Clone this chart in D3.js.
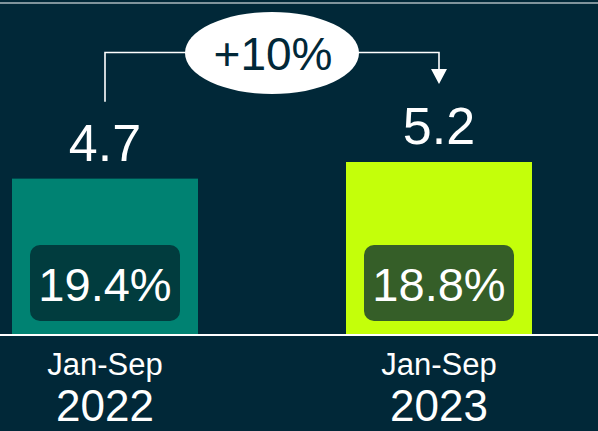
<!DOCTYPE html>
<html>
<head>
<meta charset="utf-8">
<script src="https://cdn.jsdelivr.net/npm/d3@7"></script>
<style>
  body { margin: 0; background: #012838; }
  svg { display: block; }
  text { font-family: "Liberation Sans", Arial, sans-serif; fill: #ffffff; }
</style>
</head>
<body>
<div id="chart"></div>
<script>
// data
var periods = ['Jan-Sep', 'Jan-Sep'];
var years = ['2022', '2023'];
var values = [4.7, 5.2];
var shares = ['19.4%', '18.8%'];
var changeLabel = '+10%';

var barColors = ['#008272', '#c4ff0a'];
var boxColors = ['#013c3e', '#355e28'];

var width = 598,
  height = 431,
  baseline = 335;

var svg = d3.select('#chart').append('svg')
  .attr('width', width)
  .attr('height', height)
  .style('background', '#012838');

var xScale = d3.scaleBand()
  .domain(years)
  .range([12, 532])
  .paddingInner(148 / 334)
  .paddingOuter(0);

var yScale = d3.scaleLinear()
  .domain([0, 5.2])
  .range([baseline, 162]);

var cx = function(i) { return xScale(years[i]) + xScale.bandwidth() / 2; };

// top rule
svg.append('line')
  .attr('x1', 0).attr('x2', width)
  .attr('y1', 3).attr('y2', 3)
  .attr('stroke', '#ffffff')
  .attr('stroke-width', 1.2);

// bars
svg.selectAll('rect.bar').data(values)
  .enter().append('rect')
  .attr('class', 'bar')
  .attr('x', function(d, i) { return xScale(years[i]); })
  .attr('y', function(d) { return yScale(d); })
  .attr('width', xScale.bandwidth())
  .attr('height', function(d) { return baseline - yScale(d); })
  .attr('fill', function(d, i) { return barColors[i]; });

// share boxes
svg.selectAll('rect.box').data(shares)
  .enter().append('rect')
  .attr('class', 'box')
  .attr('x', function(d, i) { return cx(i) - 75; })
  .attr('y', 245)
  .attr('width', 150)
  .attr('height', 76)
  .attr('rx', 10)
  .attr('fill', function(d, i) { return boxColors[i]; });

svg.selectAll('text.share').data(shares)
  .enter().append('text')
  .attr('class', 'share')
  .attr('x', function(d, i) { return cx(i); })
  .attr('y', 301)
  .attr('text-anchor', 'middle')
  .style('font-size', '47px')
  .text(function(d) { return d; });

// value labels
svg.selectAll('text.value').data(values)
  .enter().append('text')
  .attr('class', 'value')
  .attr('x', function(d, i) { return cx(i); })
  .attr('y', function(d) { return yScale(d) - 18; })
  .attr('text-anchor', 'middle')
  .style('font-size', '52px')
  .text(function(d) { return d3.format('.1f')(d); });

// baseline
svg.append('line')
  .attr('x1', 0).attr('x2', width)
  .attr('y1', baseline).attr('y2', baseline)
  .attr('stroke', '#ffffff')
  .attr('stroke-width', 2);

// category labels
svg.selectAll('text.period').data(periods)
  .enter().append('text')
  .attr('class', 'period')
  .attr('x', function(d, i) { return cx(i); })
  .attr('y', 375)
  .attr('text-anchor', 'middle')
  .style('font-size', '31px')
  .text(function(d) { return d; });

svg.selectAll('text.year').data(years)
  .enter().append('text')
  .attr('class', 'year')
  .attr('x', function(d, i) { return cx(i); })
  .attr('y', 421)
  .attr('text-anchor', 'middle')
  .style('font-size', '44px')
  .text(function(d) { return d; });

// change bracket
var topY = 52.5;
var startY = yScale(values[0]) - 77;
var tipY = yScale(values[1]) - 78;
svg.append('path')
  .attr('d', 'M' + cx(0) + ',' + startY + 'V' + topY + 'H' + cx(1) + 'V' + (tipY - 12))
  .attr('fill', 'none')
  .attr('stroke', '#ffffff')
  .attr('stroke-width', 1.6);

svg.append('path')
  .attr('d', 'M' + (cx(1) - 8) + ',' + (tipY - 15) + 'L' + (cx(1) + 8) + ',' + (tipY - 15) + 'L' + cx(1) + ',' + tipY + 'Z')
  .attr('fill', '#ffffff');

svg.append('ellipse')
  .attr('cx', 272)
  .attr('cy', 53)
  .attr('rx', 87)
  .attr('ry', 41)
  .attr('fill', '#ffffff');

svg.append('text')
  .attr('x', 273)
  .attr('y', 70)
  .attr('text-anchor', 'middle')
  .style('font-size', '46px')
  .style('fill', '#012838')
  .text(changeLabel);
</script>
</body>
</html>
